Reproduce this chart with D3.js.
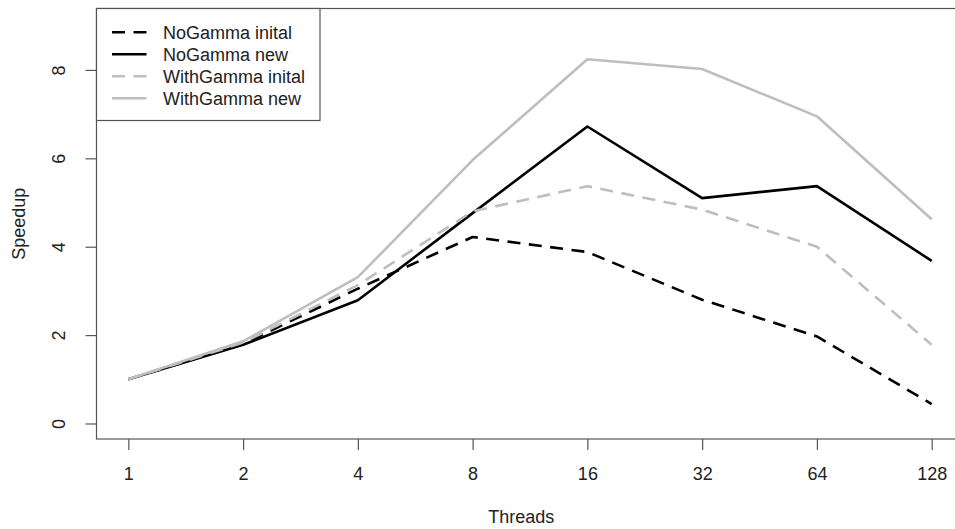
<!DOCTYPE html>
<html>
<head>
<meta charset="utf-8">
<script src="https://cdn.jsdelivr.net/npm/d3@7"></script>
<style>
  html, body { margin: 0; padding: 0; background: #fff; }
  svg { display: block; font-family: "Liberation Sans", Arial, sans-serif; }
</style>
</head>
<body>
<div id="chart"></div>
<script>
// Thread counts and measured speedups
const threads = [1, 2, 4, 8, 16, 32, 64, 128];
const noGammaInitial = [1.0, 1.80, 3.05, 4.22, 3.88, 2.80, 1.97, 0.44];
const noGammaNew = [1.0, 1.78, 2.79, 4.76, 6.72, 5.10, 5.37, 3.68];
const withGammaInitial = [1.0, 1.83, 3.13, 4.80, 5.37, 4.84, 4.00, 1.78];
const withGammaNew = [1.0, 1.86, 3.31, 5.96, 8.24, 8.02, 6.95, 4.62];
const yTicks = [0, 2, 4, 6, 8];

const seriesNames = ["NoGamma inital", "NoGamma new", "WithGamma inital", "WithGamma new"];
const seriesValues = [noGammaInitial, noGammaNew, withGammaInitial, withGammaNew];
const seriesColors = ["#000000", "#000000", "#bebebe", "#bebebe"];
const seriesDash = ["13,8.5", null, "13,8.5", null];

const width = 955, height = 529;
const plot = { left: 96.5, right: 963.8, top: 8.5, bottom: 439 };

const svg = d3.select("#chart")
    .append("svg")
    .attr("width", width)
    .attr("height", height);

// log2 x axis, padded like R's default 4% extension
const x = d3.scaleLog().base(2)
    .domain([Math.pow(2, -0.28), Math.pow(2, 7.28)])
    .range([plot.left - 0.3, plot.right]);

const y = d3.scaleLinear()
    .domain([-0.351, 9.39])
    .range([plot.bottom, plot.top]);

const axisColor = "#555";

// Bottom axis
const xAxis = svg.append("g")
    .attr("transform", `translate(0,${plot.bottom})`)
    .call(d3.axisBottom(x).tickValues(threads).tickFormat(d3.format("d"))
        .tickSize(11).tickSizeOuter(0));
xAxis.select(".domain").remove();
xAxis.selectAll(".tick line").attr("stroke", axisColor).attr("stroke-width", 1.2);
xAxis.selectAll(".tick text")
    .attr("y", 41).attr("dy", null)
    .attr("fill", "#222")
    .style("font-size", "18px");

// Left axis with rotated labels
const yAxis = svg.append("g")
    .attr("transform", `translate(${plot.left},0)`)
    .call(d3.axisLeft(y).tickValues(yTicks).tickSize(11).tickSizeOuter(0));
yAxis.select(".domain").remove();
yAxis.selectAll(".tick line").attr("stroke", axisColor).attr("stroke-width", 1.2);
yAxis.selectAll(".tick text")
    .attr("x", null).attr("dy", null)
    .attr("text-anchor", "middle")
    .attr("transform", "translate(-32,0) rotate(-90)")
    .attr("fill", "#222")
    .style("font-size", "18px");

// Plot frame
svg.append("rect")
    .attr("x", plot.left)
    .attr("y", plot.top)
    .attr("width", plot.right - plot.left)
    .attr("height", plot.bottom - plot.top)
    .attr("fill", "none")
    .attr("stroke", axisColor)
    .attr("stroke-width", 1.2);

// Axis titles
svg.append("text")
    .attr("x", (plot.left + 946) / 2)
    .attr("y", 523)
    .attr("text-anchor", "middle")
    .attr("fill", "#222")
    .style("font-size", "18px")
    .text("Threads");

svg.append("text")
    .attr("transform", `translate(24.5,${(plot.top + plot.bottom) / 2}) rotate(-90)`)
    .attr("text-anchor", "middle")
    .attr("fill", "#222")
    .style("font-size", "18px")
    .text("Speedup");

// Series lines
const line = d3.line()
    .x((d, i) => x(threads[i]))
    .y(d => y(d));

const lines = svg.append("g").attr("class", "lines-layer");
seriesValues.forEach((vals, k) => {
    lines.append("path")
        .datum(vals)
        .attr("d", line)
        .attr("fill", "none")
        .attr("stroke", seriesColors[k])
        .attr("stroke-width", 2.6)
        .attr("stroke-linejoin", "round")
        .attr("stroke-dasharray", seriesDash[k]);
});

// Legend
const legend = svg.append("g").attr("class", "legend");
legend.append("rect")
    .attr("x", plot.left)
    .attr("y", plot.top)
    .attr("width", 320 - plot.left)
    .attr("height", 120.5 - plot.top)
    .attr("fill", "#fff")
    .attr("stroke", axisColor)
    .attr("stroke-width", 1.2);

seriesNames.forEach((name, k) => {
    const cy = 32.3 + k * 22;
    legend.append("line")
        .attr("x1", 112).attr("x2", 146.5)
        .attr("y1", cy).attr("y2", cy)
        .attr("stroke", seriesColors[k])
        .attr("stroke-width", 2.6)
        .attr("stroke-dasharray", seriesDash[k]);
    legend.append("text")
        .attr("x", 163)
        .attr("y", cy + 6.5)
        .attr("fill", "#222")
        .style("font-size", "18px")
        .text(name);
});
</script>
</body>
</html>
